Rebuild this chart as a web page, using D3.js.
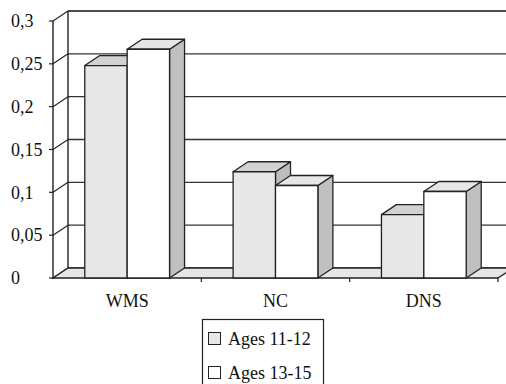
<!DOCTYPE html>
<html>
<head>
<meta charset="utf-8">
<script src="https://cdn.jsdelivr.net/npm/d3@7"></script>
<style>
  html, body { margin: 0; padding: 0; background: #fff; }
  svg { display: block; }
  text { font-family: "Liberation Serif", "Times New Roman", serif; font-size: 18px; fill: #111; }
</style>
</head>
<body>
<svg id="chart" width="506" height="384"></svg>
<script>
// Groups along the x axis and the two age series
const categories = ["WMS", "NC", "DNS"];
const seriesNames = ["Ages 11-12", "Ages 13-15"];
const ages1112 = [0.248, 0.124, 0.074];
const ages1315 = [0.267, 0.108, 0.101];
const yTicks = [0, 0.05, 0.1, 0.15, 0.2, 0.25, 0.3];
const yTickLabels = ["0", "0,05", "0,1", "0,15", "0,2", "0,25", "0,3"];

const svg = d3.select("#chart");
const W = 506, H = 384;

// Front plane of the 3D box and the depth offset to the back wall
const x0 = d3.scaleBand().domain(categories).range([53, 498]).padding(0);
const x1 = d3.scaleBand().domain(seriesNames).range([0, x0.bandwidth()])
  .paddingInner(0).paddingOuter(0.75);
const y = d3.scaleLinear().domain([0, 0.3]).range([278, 21]);
const DX = 15, DY = -10;

const faces = [
  { front: "#e6e7e6", top: "#d2d2d2", side: "#bdbdbd" },
  { front: "#ffffff", top: "#e6e6e6", side: "#c0c0c0" }
];
const values = [ages1112, ages1315];

const stroke = "#222";
const g = svg.append("g");

// Back wall gridlines
g.append("g").selectAll("line").data(yTicks).join("line")
  .attr("x1", x0.range()[0] + DX).attr("x2", W + 5)
  .attr("y1", d => y(d) + DY).attr("y2", d => y(d) + DY)
  .attr("stroke", d => d === 0.3 ? "#111" : "#333")
  .attr("stroke-width", d => d === 0.3 ? 1.6 : 1.3);

// Side wall gridlines running from the front axis back to the wall
g.append("g").selectAll("line").data(yTicks).join("line")
  .attr("x1", x0.range()[0]).attr("x2", x0.range()[0] + DX)
  .attr("y1", d => y(d)).attr("y2", d => y(d) + DY)
  .attr("stroke", stroke).attr("stroke-width", 1.2);

// Back-left edge of the wall
g.append("line")
  .attr("x1", x0.range()[0] + DX).attr("x2", x0.range()[0] + DX)
  .attr("y1", y(0.3) + DY).attr("y2", y(0) + DY)
  .attr("stroke", stroke).attr("stroke-width", 1.4);

// Floor
const fx0 = x0.range()[0], fx1 = x0.range()[1], fy = y(0);
g.append("path")
  .attr("d", `M${fx0},${fy}L${fx1},${fy}L${fx1 + DX},${fy + DY}L${fx0 + DX},${fy + DY}Z`)
  .attr("fill", "#e6e6e6").attr("stroke", stroke).attr("stroke-width", 1.3)
  .attr("stroke-linejoin", "miter");

// Front value axis with ticks
g.append("line")
  .attr("x1", fx0).attr("x2", fx0).attr("y1", y(0.3)).attr("y2", y(0) + 1)
  .attr("stroke", stroke).attr("stroke-width", 1.4);
g.append("g").selectAll("line").data(yTicks).join("line")
  .attr("x1", fx0 - 4).attr("x2", fx0)
  .attr("y1", d => y(d)).attr("y2", d => y(d))
  .attr("stroke", stroke).attr("stroke-width", 1.2);
g.append("g").selectAll("text").data(yTicks).join("text")
  .attr("x", 11).attr("y", d => y(d)).attr("dy", "0.35em")
  .text((d, i) => yTickLabels[i]);

// Category boundary ticks below the floor front edge
const bounds = categories.map(c => x0(c)).concat([fx1]);
g.append("g").selectAll("line").data(bounds.slice(1)).join("line")
  .attr("x1", d => d).attr("x2", d => d).attr("y1", fy).attr("y2", fy + 4)
  .attr("stroke", stroke).attr("stroke-width", 1.2);

// Category labels
g.append("g").selectAll("text").data(categories).join("text")
  .attr("x", d => x0(d) + x0.bandwidth() / 2).attr("y", 307)
  .attr("text-anchor", "middle").text(d => d);

// 3D columns, drawn left to right so each bar covers its neighbour's side
const bars = [];
categories.forEach((c, ci) => {
  seriesNames.forEach((s, si) => {
    bars.push({ x: x0(c) + x1(s), w: x1.bandwidth(), v: values[si][ci], si });
  });
});
const barG = g.append("g");
bars.forEach(b => {
  const xl = b.x, xr = b.x + b.w, yt = y(b.v), yb = y(0);
  const f = faces[b.si];
  const bg = barG.append("g")
    .attr("stroke", stroke).attr("stroke-width", 1.3).attr("stroke-linejoin", "round");
  bg.append("path")
    .attr("d", `M${xr},${yt}L${xr + DX},${yt + DY}L${xr + DX},${yb + DY}L${xr},${yb}Z`)
    .attr("fill", f.side);
  bg.append("path")
    .attr("d", `M${xl},${yt}L${xl + DX},${yt + DY}L${xr + DX},${yt + DY}L${xr},${yt}Z`)
    .attr("fill", f.top);
  bg.append("rect")
    .attr("x", xl).attr("y", yt).attr("width", b.w).attr("height", yb - yt)
    .attr("fill", f.front);
});

// Legend
const lg = svg.append("g");
lg.append("rect").attr("x", 202.5).attr("y", 319.5).attr("width", 121).attr("height", 70)
  .attr("fill", "#fff").attr("stroke", stroke).attr("stroke-width", 1.2);
seriesNames.forEach((s, i) => {
  const yy = 332 + i * 34;
  lg.append("rect").attr("x", 208.5).attr("y", yy + 0.5).attr("width", 12).attr("height", 12)
    .attr("fill", faces[i].front).attr("stroke", stroke).attr("stroke-width", 1);
  lg.append("text").attr("x", 228).attr("y", yy + 13).text(s);
});
</script>
</body>
</html>
